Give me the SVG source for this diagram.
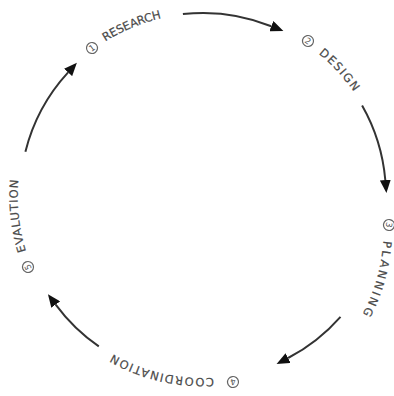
<svg xmlns="http://www.w3.org/2000/svg" width="394" height="396" viewBox="0 0 394 396">
  <style>
    .lbl { font-family: "DejaVu Sans", "Liberation Sans", sans-serif; font-size: 11.5px; fill: #4a4a4a; stroke: #4a4a4a; stroke-width: 0.2; }
    .num { font-family: "DejaVu Sans", "Liberation Sans", sans-serif; font-size: 8.5px; fill: #555; text-anchor: middle; dominant-baseline: central; }
    .ring { fill: none; stroke: #666; stroke-width: 1.2; }
    .arc { fill: none; stroke: #333; stroke-width: 2; }
  </style>
  <defs>
    <marker id="ah" markerUnits="userSpaceOnUse" markerWidth="13" markerHeight="11" refX="0" refY="5.5" orient="auto">
      <path d="M0,0 L13,5.5 L0,11 z" fill="#111"/>
    </marker>
    <path id="p1" d="M105.4,41.6 A182.6,182.6 0 0 1 171.3,16.2"/>
    <path id="p2" d="M318.5,53.8 A183.2,183.2 0 0 1 360,101.6"/>
    <path id="p3" d="M383.5,240.7 A190,190 0 0 1 359.5,320"/>
    <path id="p4" d="M213.8,377.7 A182,182 0 0 1 101.2,346.9"/>
    <path id="p5" d="M26.1,251.1 A185.3,185.3 0 0 1 19.5,170.2"/>
  </defs>
  <rect width="394" height="396" fill="#fff"/>

  <g id="connectors">
    <path class="arc" d="M182.9,14.1 A183,183 0 0 1 271.3,26.2" marker-end="url(#ah)"/>
    <path class="arc" d="M362.1,105.6 A183,183 0 0 1 385.3,180" marker-end="url(#ah)"/>
    <path class="arc" d="M340.5,316.8 A183,183 0 0 1 288.1,358" marker-end="url(#ah)"/>
    <path class="arc" d="M98.8,346.4 A183,183 0 0 1 55.7,304.6" marker-end="url(#ah)"/>
    <path class="arc" d="M25.4,151.7 A183,183 0 0 1 68.1,72.4" marker-end="url(#ah)"/>
  </g>

  <g id="research">
    <g transform="translate(92,48) rotate(-36)"><circle class="ring" r="5.5"/><text class="num">1</text></g>
    <text class="lbl"><textPath href="#p1" textLength="61" lengthAdjust="spacing">RESEARCH</textPath></text>
  </g>
  <g id="design">
    <g transform="translate(308,41) rotate(34)"><circle class="ring" r="5.5"/><text class="num">2</text></g>
    <text class="lbl"><textPath href="#p2" textLength="52" lengthAdjust="spacing">DESIGN</textPath></text>
  </g>
  <g id="planning">
    <g transform="translate(389,225) rotate(99)"><circle class="ring" r="5.5"/><text class="num">3</text></g>
    <text class="lbl"><textPath href="#p3" textLength="77" lengthAdjust="spacing">PLANNING</textPath></text>
  </g>
  <g id="coordination">
    <g transform="translate(233,382) rotate(171)"><circle class="ring" r="5.5"/><text class="num">4</text></g>
    <text class="lbl"><textPath href="#p4" textLength="105" lengthAdjust="spacing">COORDINATION</textPath></text>
  </g>
  <g id="evalution">
    <g transform="translate(28,267) rotate(248)"><circle class="ring" r="5.5"/><text class="num">5</text></g>
    <text class="lbl"><textPath href="#p5" textLength="72" lengthAdjust="spacing">EVALUTION</textPath></text>
  </g>
</svg>
